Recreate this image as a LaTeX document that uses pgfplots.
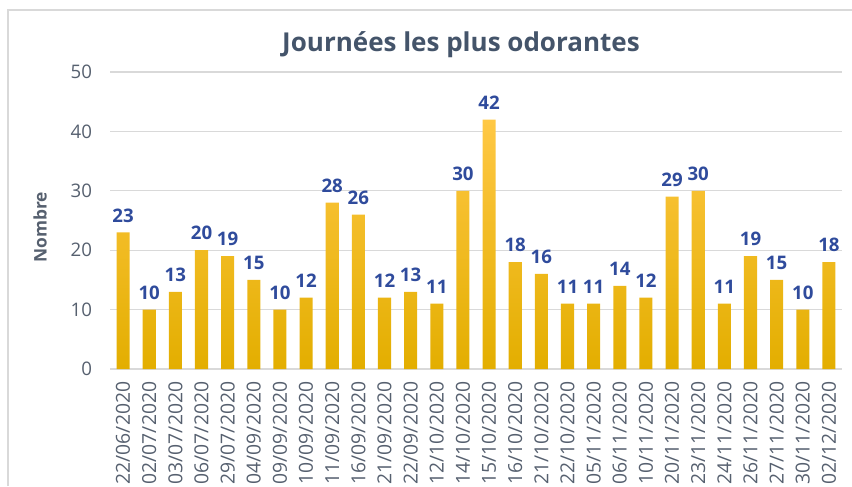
\documentclass[border=0pt]{standalone}
\usepackage{pgfplots}
\pgfplotsset{compat=1.18}
\usepackage{fontspec}
\setmainfont{Open Sans}
\definecolor{titlec}{HTML}{44546A}
\definecolor{tickc}{HTML}{56606F}
\definecolor{gridc}{HTML}{D9D9D9}
\definecolor{labc}{HTML}{2F4B9C}
\definecolor{bartop}{HTML}{FFC845}
\definecolor{barmid}{HTML}{FFC000}
\definecolor{barbot}{HTML}{E3AE00}
\begin{document}
\begin{tikzpicture}
\useasboundingbox (0,0) rectangle (639pt,364.5pt);
\draw[gridc, line width=0.8pt] (6pt,0) -- (6pt,357pt) -- (639pt,357pt);
\begin{axis}[
  at={(82.5pt,87.75pt)}, anchor=south west,
  scale only axis, width=549pt, height=222.75pt,
  xmin=-0.5, xmax=27.5, ymin=0, ymax=50,
  ytick={0,10,...,50},
  xtick={0,...,27},
  xticklabels={22/06/2020,02/07/2020,03/07/2020,06/07/2020,29/07/2020,04/09/2020,09/09/2020,10/09/2020,11/09/2020,16/09/2020,21/09/2020,22/09/2020,12/10/2020,14/10/2020,15/10/2020,16/10/2020,21/10/2020,22/10/2020,05/11/2020,06/11/2020,10/11/2020,20/11/2020,23/11/2020,24/11/2020,26/11/2020,27/11/2020,30/11/2020,02/12/2020},
  x tick label style={rotate=90, anchor=east, font=\fontsize{14.5}{15}\selectfont, text=tickc},
  y tick label style={font=\fontsize{14}{15}\selectfont, text=tickc},
  xticklabel shift=6pt,
  yticklabel shift=10pt,
  /pgf/number format/assume math mode=true,
  major tick length=0pt,
  axis line style={draw=none},
  ymajorgrids, grid style={gridc, line width=0.8pt},
  ybar, bar width=9.8pt,
  nodes near coords,
  nodes near coords style={font=\fontsize{14}{14}\selectfont\bfseries, text=labc, anchor=south, yshift=4pt},
  clip=false,
]
\addplot[draw=none, top color=bartop, middle color=barmid, bottom color=barbot] coordinates {
(0,23) (1,10) (2,13) (3,20) (4,19) (5,15) (6,10) (7,12) (8,28) (9,26)
(10,12) (11,13) (12,11) (13,30) (14,42) (15,18) (16,16) (17,11) (18,11) (19,14)
(20,12) (21,29) (22,30) (23,11) (24,19) (25,15) (26,10) (27,18)
};
\end{axis}
\node[text=titlec, font=\fontsize{19.5}{21}\selectfont\bfseries] at (345.75pt,330.75pt) {Journées les plus odorantes};
\node[text=tickc, font=\fontsize{13}{14}\selectfont\bfseries, rotate=90] at (30pt,194pt) {Nombre};
\end{tikzpicture}
\end{document}
